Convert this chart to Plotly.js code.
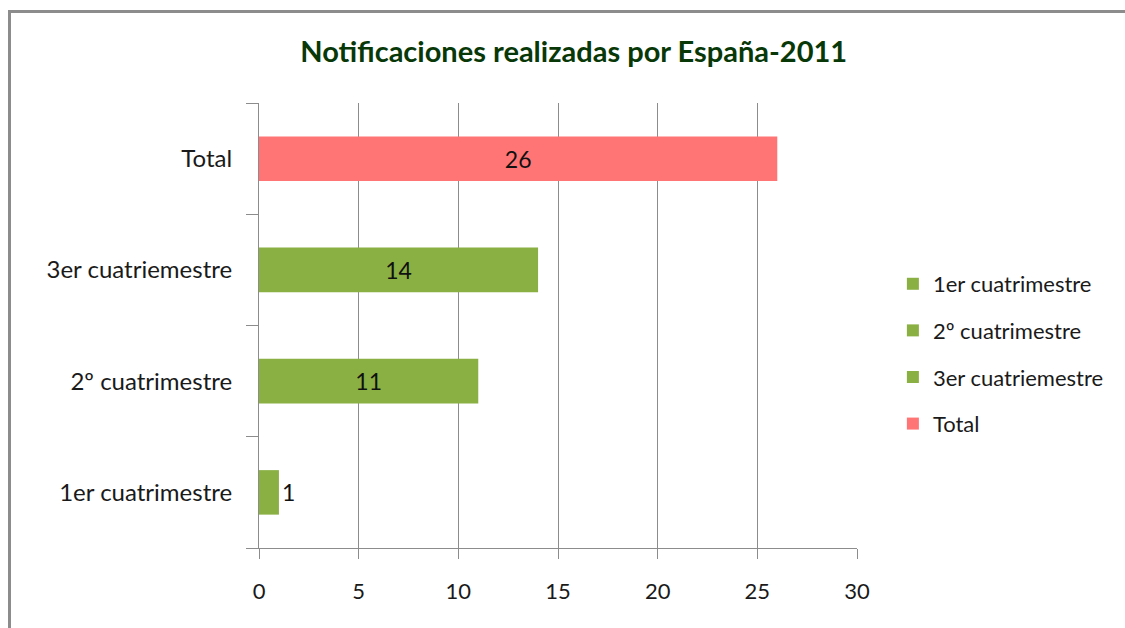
<!DOCTYPE html>
<html>
<head>
<meta charset="utf-8">
<script src="https://cdn.plot.ly/plotly-3.0.1.min.js"></script>
<style>
  html, body { margin:0; padding:0; background:#fff; }
  #wrap { position:relative; width:1125px; height:628px; overflow:hidden; }
  #chart { position:absolute; left:0; top:0; width:1125px; height:628px; }
  #frame { position:absolute; left:8px; top:10px; width:1200px; height:700px;
           border-top:3px solid #8c8c8c; border-left:3px solid #8c8c8c; pointer-events:none; }
</style>
</head>
<body>
<div id="wrap">
  <div id="chart"></div>
  <div id="frame"></div>
</div>
<script>
const categories = ["1er cuatrimestre", "2º cuatrimestre", "3er cuatriemestre", "Total"];
const seriesNames = ["1er cuatrimestre", "2º cuatrimestre", "3er cuatriemestre", "Total"];
const values = [1, 11, 14, 26];
const xTicks = [0, 5, 10, 15, 20, 25, 30];
const colors = ["#8ab043", "#8ab043", "#8ab043", "#ff7575"];

const FONT = "Lato, 'Open Sans', sans-serif";

const traces = seriesNames.map((name, i) => ({
  type: "bar",
  orientation: "h",
  name: name,
  legendgroup: "g" + i,
  x: [values[i]],
  y: [categories[i]],
  width: 0.4,
  marker: { color: colors[i], line: { width: 0 } },
  text: [String(values[i])],
  textposition: values[i] < 3 ? "outside" : "inside",
  insidetextanchor: "middle",
  textfont: { family: FONT, size: 23, color: "#111" },
  cliponaxis: false,
  hoverinfo: "x+y"
}));

const layout = {
  width: 1125, height: 628,
  paper_bgcolor: "#fff", plot_bgcolor: "#fff",
  margin: { l: 259, r: 268, t: 103, b: 80, pad: 0 },
  barmode: "overlay",
  font: { family: FONT, color: "#1a1a1a" },
  title: {
    text: "<b>Notificaciones realizadas por España-2011</b>",
    font: { family: FONT, size: 29, color: "#083808" },
    x: 0.510, xanchor: "center",
    y: 1 - 52/628, yanchor: "middle"
  },
  xaxis: {
    range: [0, 30],
    tickvals: xTicks,
    ticktext: xTicks.map(String),
    showgrid: true, gridcolor: "#8c8c8c", gridwidth: 1,
    zeroline: false,
    showline: true, linecolor: "#8c8c8c", linewidth: 1,
    ticks: "outside", ticklen: 10, tickcolor: "#8c8c8c", tickwidth: 1,
    tickfont: { family: FONT, size: 22, color: "#1a1a1a" },
    ticklabelstandoff: 14,
    fixedrange: true
  },
  yaxis: {
    type: "category",
    categoryorder: "array",
    categoryarray: categories,
    tickson: "boundaries",
    showgrid: false,
    showline: true, linecolor: "#8c8c8c", linewidth: 1,
    ticks: "outside", ticklen: 12, tickcolor: "#8c8c8c", tickwidth: 1,
    tickfont: { family: FONT, size: 24, color: "#1a1a1a" },
    ticklabelstandoff: 21,
    fixedrange: true
  },
  legend: {
    x: 1.06, xanchor: "left",
    y: 0.436, yanchor: "middle",
    font: { family: FONT, size: 22, color: "#1a1a1a" },
    tracegroupgap: 15,
    bgcolor: "rgba(0,0,0,0)",
    itemclick: false, itemdoubleclick: false
  },
  showlegend: true
};

Plotly.newPlot("chart", traces, layout, { displayModeBar: false, staticPlot: true });
</script>
</body>
</html>
